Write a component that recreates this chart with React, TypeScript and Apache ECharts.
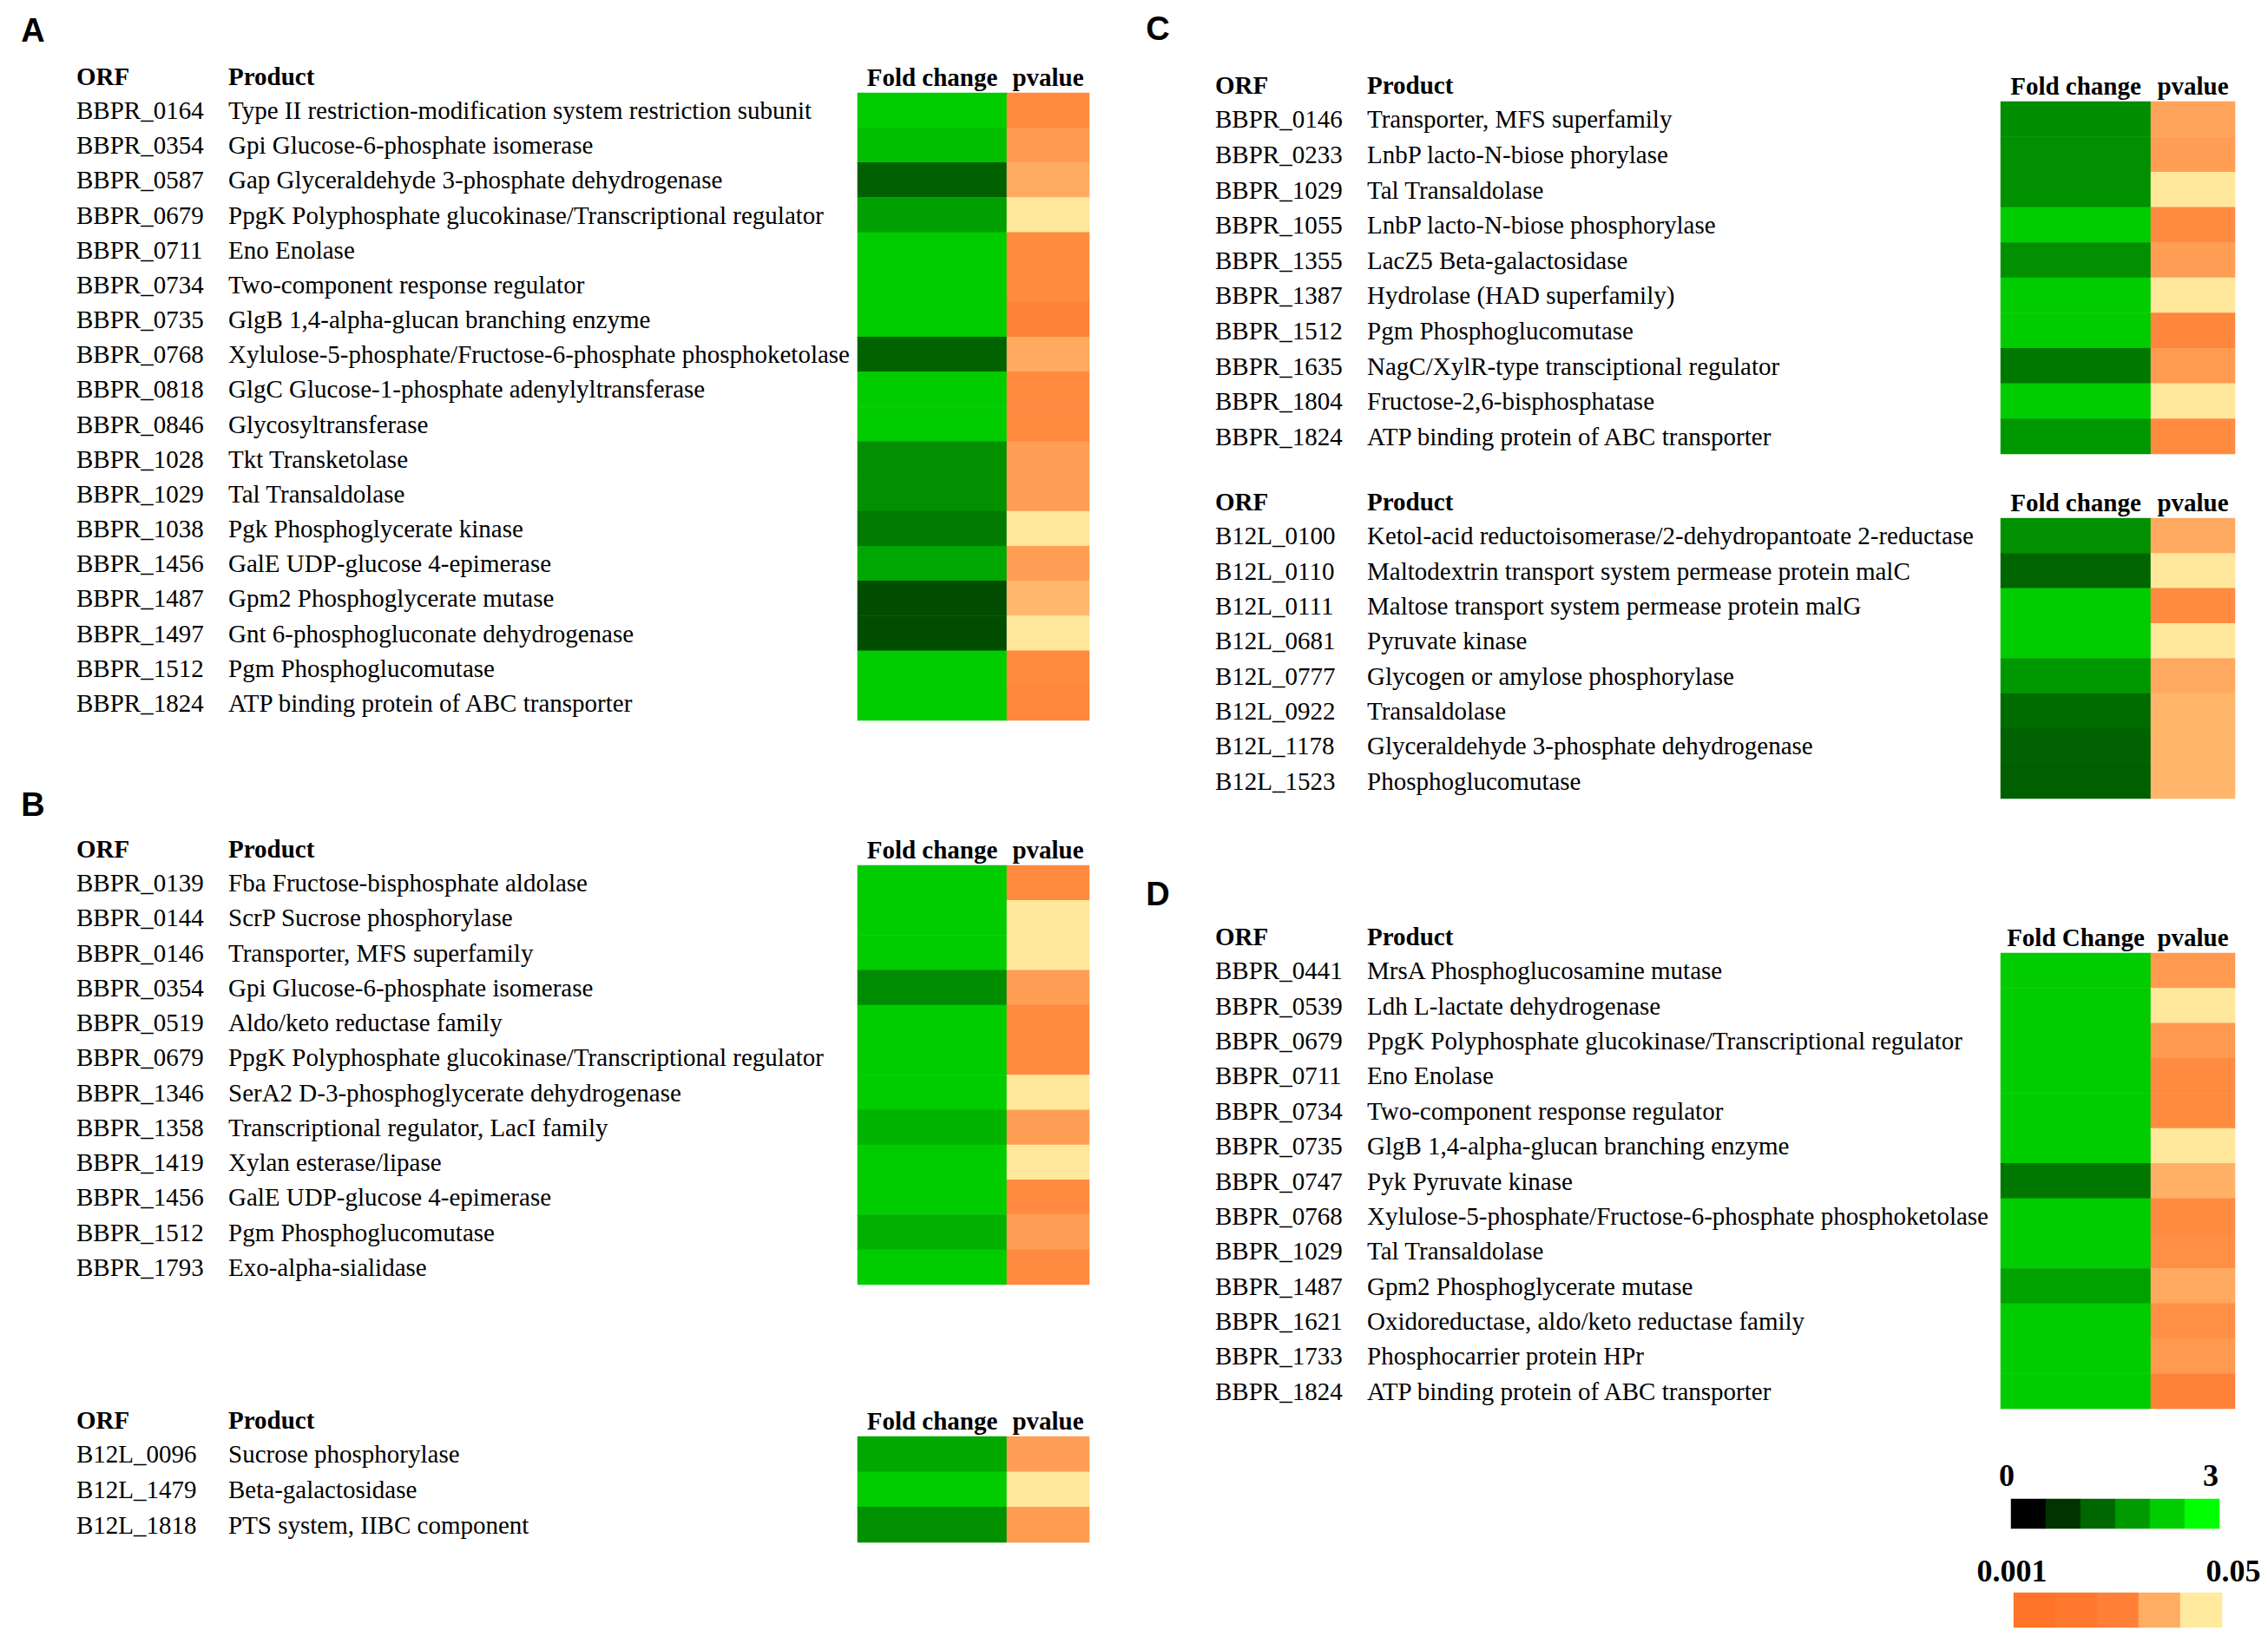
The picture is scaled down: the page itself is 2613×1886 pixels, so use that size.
import React, { useEffect, useRef } from 'react';
import * as echarts from 'echarts';

const SERIF = "'Liberation Serif', 'Times New Roman', serif";
const SANS_N = "'Liberation Sans Narrow', 'Liberation Sans', Arial, sans-serif";

// ---------- Panel A ----------
const aOrf = ['BBPR_0164','BBPR_0354','BBPR_0587','BBPR_0679','BBPR_0711','BBPR_0734','BBPR_0735','BBPR_0768','BBPR_0818','BBPR_0846','BBPR_1028','BBPR_1029','BBPR_1038','BBPR_1456','BBPR_1487','BBPR_1497','BBPR_1512','BBPR_1824'];
const aProduct = ['Type II restriction-modification system restriction subunit','Gpi Glucose-6-phosphate isomerase','Gap Glyceraldehyde 3-phosphate dehydrogenase','PpgK Polyphosphate glucokinase/Transcriptional regulator','Eno Enolase','Two-component response regulator','GlgB 1,4-alpha-glucan branching enzyme','Xylulose-5-phosphate/Fructose-6-phosphate phosphoketolase','GlgC Glucose-1-phosphate adenylyltransferase','Glycosyltransferase','Tkt Transketolase','Tal Transaldolase','Pgk Phosphoglycerate kinase','GalE UDP-glucose 4-epimerase','Gpm2 Phosphoglycerate mutase','Gnt 6-phosphogluconate dehydrogenase','Pgm Phosphoglucomutase','ATP binding protein of ABC transporter'];
const aFold = [2.4, 2.25, 1.13, 1.88, 2.4, 2.4, 2.4, 1.17, 2.4, 2.4, 1.69, 1.69, 1.43, 1.97, 0.9, 0.9, 2.4, 2.4];
const aP = [0.0282, 0.0326, 0.0375, 0.0496, 0.0285, 0.0282, 0.026, 0.0369, 0.0282, 0.0282, 0.0337, 0.0337, 0.0496, 0.0337, 0.04, 0.0496, 0.0282, 0.0278];

// ---------- Panel B (top) ----------
const b1Orf = ['BBPR_0139','BBPR_0144','BBPR_0146','BBPR_0354','BBPR_0519','BBPR_0679','BBPR_1346','BBPR_1358','BBPR_1419','BBPR_1456','BBPR_1512','BBPR_1793'];
const b1Product = ['Fba Fructose-bisphosphate aldolase','ScrP Sucrose phosphorylase','Transporter, MFS superfamily','Gpi Glucose-6-phosphate isomerase','Aldo/keto reductase family','PpgK Polyphosphate glucokinase/Transcriptional regulator','SerA2 D-3-phosphoglycerate dehydrogenase','Transcriptional regulator, LacI family','Xylan esterase/lipase','GalE UDP-glucose 4-epimerase','Pgm Phosphoglucomutase','Exo-alpha-sialidase'];
const b1Fold = [2.4, 2.4, 2.4, 1.65, 2.4, 2.4, 2.4, 2.12, 2.4, 2.4, 2.07, 2.4];
const b1P = [0.0282, 0.0496, 0.0496, 0.0337, 0.0282, 0.0282, 0.0496, 0.0337, 0.0496, 0.0282, 0.0337, 0.0282];

// ---------- Panel B (bottom) ----------
const b2Orf = ['B12L_0096','B12L_1479','B12L_1818'];
const b2Product = ['Sucrose phosphorylase','Beta-galactosidase','PTS system, IIBC component'];
const b2Fold = [1.98, 2.4, 1.69];
const b2P = [0.0337, 0.0496, 0.033];

// ---------- Panel C (top) ----------
const c1Orf = ['BBPR_0146','BBPR_0233','BBPR_1029','BBPR_1055','BBPR_1355','BBPR_1387','BBPR_1512','BBPR_1635','BBPR_1804','BBPR_1824'];
const c1Product = ['Transporter, MFS superfamily','LnbP lacto-N-biose phorylase','Tal Transaldolase','LnbP lacto-N-biose phosphorylase','LacZ5 Beta-galactosidase','Hydrolase (HAD superfamily)','Pgm Phosphoglucomutase','NagC/XylR-type transciptional regulator','Fructose-2,6-bisphosphatase','ATP binding protein of ABC transporter'];
const c1Fold = [1.67, 1.69, 1.69, 2.4, 1.69, 2.4, 2.4, 1.41, 2.4, 1.79];
const c1P = [0.0355, 0.0337, 0.0496, 0.0285, 0.0337, 0.0496, 0.0275, 0.033, 0.0496, 0.0285];

// ---------- Panel C (bottom) ----------
const c2Orf = ['B12L_0100','B12L_0110','B12L_0111','B12L_0681','B12L_0777','B12L_0922','B12L_1178','B12L_1523'];
const c2Product = ['Ketol-acid reductoisomerase/2-dehydropantoate 2-reductase','Maltodextrin transport system permease protein malC','Maltose transport system permease protein malG','Pyruvate kinase','Glycogen or amylose phosphorylase','Transaldolase','Glyceraldehyde 3-phosphate dehydrogenase','Phosphoglucomutase'];
const c2Fold = [1.69, 1.18, 2.4, 2.4, 1.79, 1.27, 1.15, 1.13];
const c2P = [0.0369, 0.0496, 0.0282, 0.0496, 0.0369, 0.0395, 0.0395, 0.0395];

// ---------- Panel D ----------
const dOrf = ['BBPR_0441','BBPR_0539','BBPR_0679','BBPR_0711','BBPR_0734','BBPR_0735','BBPR_0747','BBPR_0768','BBPR_1029','BBPR_1487','BBPR_1621','BBPR_1733','BBPR_1824'];
const dProduct = ['MrsA Phosphoglucosamine mutase','Ldh L-lactate dehydrogenase','PpgK Polyphosphate glucokinase/Transcriptional regulator','Eno Enolase','Two-component response regulator','GlgB 1,4-alpha-glucan branching enzyme','Pyk Pyruvate kinase','Xylulose-5-phosphate/Fructose-6-phosphate phosphoketolase','Tal Transaldolase','Gpm2 Phosphoglycerate mutase','Oxidoreductase, aldo/keto reductase family','Phosphocarrier protein HPr','ATP binding protein of ABC transporter'];
const dFold = [2.4, 2.4, 2.4, 2.4, 2.4, 2.4, 1.41, 2.4, 2.4, 1.9, 2.4, 2.4, 2.4];
const dP = [0.0326, 0.0496, 0.0326, 0.0285, 0.0285, 0.0496, 0.0387, 0.0285, 0.0296, 0.0369, 0.0296, 0.0326, 0.026];

// ---------- Color scales ----------
const foldLegendValues = [0, 0.6, 1.2, 1.8, 2.4, 3];
const foldLegendLabels = ['0', '3'];
const pLegendValues = [0.001, 0.01325, 0.0255, 0.03775, 0.05];
const pLegendLabels = ['0.001', '0.05'];
const foldColors = ['#000000', '#00ff00'];
const pColors = ['#ff7428', '#ff7a2e', '#ff8036', '#ffad63', '#ffea9d'];

const tables = [
  { orf: aOrf, product: aProduct, fold: aFold, p: aP, header: 'Fold change' },
  { orf: b1Orf, product: b1Product, fold: b1Fold, p: b1P, header: 'Fold change' },
  { orf: b2Orf, product: b2Product, fold: b2Fold, p: b2P, header: 'Fold change' },
  { orf: c1Orf, product: c1Product, fold: c1Fold, p: c1P, header: 'Fold change' },
  { orf: c2Orf, product: c2Product, fold: c2Fold, p: c2P, header: 'Fold change' },
  { orf: dOrf, product: dProduct, fold: dFold, p: dP, header: 'Fold Change' },
];

// layout (pixels)
const layouts = [
  { left: 988, fcW: 172, pW: 95, top: 107, height: 723, labelX: 88 },
  { left: 988, fcW: 172, pW: 95, top: 997, height: 483, labelX: 88 },
  { left: 988, fcW: 172, pW: 95, top: 1655, height: 122, labelX: 88 },
  { left: 2305, fcW: 173, pW: 97, top: 117, height: 406, labelX: 1400 },
  { left: 2305, fcW: 173, pW: 97, top: 597, height: 323, labelX: 1400 },
  { left: 2305, fcW: 173, pW: 97, top: 1098, height: 525, labelX: 1400 },
];
const panelLetters = [
  { t: 'A', x: 38, y: 35 },
  { t: 'B', x: 38, y: 927 },
  { t: 'C', x: 1334, y: 33 },
  { t: 'D', x: 1334, y: 1030 },
];

const FS = 29;

function buildOption() {
  const grid: any[] = [];
  const xAxis: any[] = [];
  const yAxis: any[] = [];
  const series: any[] = [];
  const graphic: any[] = [];
  const fcSeries: number[] = [];
  const pSeries: number[] = [];

  tables.forEach((t, k) => {
    const L = layouts[k];
    // fold change column
    const gi = grid.length;
    grid.push({ left: L.left, top: L.top, width: L.fcW, height: L.height, containLabel: false });
    grid.push({ left: L.left + L.fcW, top: L.top, width: L.pW, height: L.height, containLabel: false });
    const xHeader = (name: string, gIdx: number) => ({
      gridIndex: gIdx,
      type: 'category',
      data: [name],
      position: 'top',
      axisLine: { show: false },
      axisTick: { show: false },
      splitLine: { show: false },
      axisLabel: { interval: 0, fontFamily: SERIF, fontWeight: 'bold', fontSize: FS, color: '#000', margin: 4 },
    });
    xAxis.push(xHeader(t.header, gi));
    xAxis.push(xHeader('pvalue', gi + 1));
    yAxis.push({
      gridIndex: gi,
      type: 'category',
      data: t.orf,
      inverse: true,
      axisLine: { show: false },
      axisTick: { show: false },
      splitLine: { show: false },
      axisLabel: {
        interval: 0,
        align: 'left',
        margin: L.left - L.labelX,
        formatter: (v: string, i: number) => `{o|${v}}{p|${t.product[i]}}`,
        rich: {
          o: { width: 175, fontSize: FS, fontFamily: SERIF, color: '#000' },
          p: { fontSize: FS, fontFamily: SERIF, color: '#000' },
        },
      },
    });
    yAxis.push({
      gridIndex: gi + 1,
      type: 'category',
      data: t.orf,
      inverse: true,
      axisLine: { show: false },
      axisTick: { show: false },
      splitLine: { show: false },
      axisLabel: { show: false },
    });
    fcSeries.push(series.length);
    series.push({
      type: 'heatmap',
      xAxisIndex: gi,
      yAxisIndex: gi,
      data: t.fold.map((v, i) => [0, i, v]),
      emphasis: { disabled: true },
    });
    pSeries.push(series.length);
    series.push({
      type: 'heatmap',
      xAxisIndex: gi + 1,
      yAxisIndex: gi + 1,
      data: t.p.map((v, i) => [0, i, v]),
      emphasis: { disabled: true },
    });
    graphic.push({
      type: 'text', x: L.labelX, y: L.top - 19,
      style: { text: 'ORF', font: `bold ${FS}px ${SERIF}`, fill: '#000', verticalAlign: 'middle', align: 'left' },
    });
    graphic.push({
      type: 'text', x: L.labelX + 175, y: L.top - 19,
      style: { text: 'Product', font: `bold ${FS}px ${SERIF}`, fill: '#000', verticalAlign: 'middle', align: 'left' },
    });
  });

  // legend grids
  const addLegend = (vals: number[], left: number, top: number, width: number, height: number, target: number[]) => {
    const gi = grid.length;
    grid.push({ left, top, width, height });
    xAxis.push({ gridIndex: gi, type: 'category', data: vals.map(String), axisLine: { show: false }, axisTick: { show: false }, axisLabel: { show: false }, splitLine: { show: false } });
    yAxis.push({ gridIndex: gi, type: 'category', data: ['scale'], axisLine: { show: false }, axisTick: { show: false }, axisLabel: { show: false }, splitLine: { show: false } });
    target.push(series.length);
    series.push({ type: 'heatmap', xAxisIndex: gi, yAxisIndex: gi, data: vals.map((v, i) => [i, 0, v]), emphasis: { disabled: true } });
  };
  addLegend(foldLegendValues, 2317, 1727, 240, 34, fcSeries);
  addLegend(pLegendValues, 2320, 1835, 240, 40, pSeries);

  const legText = (text: string, x: number, y: number) => ({
    type: 'text', x, y,
    style: { text, font: `bold 36px ${SERIF}`, fill: '#000', align: 'center', verticalAlign: 'middle' },
  });
  graphic.push(legText(foldLegendLabels[0], 2312, 1700));
  graphic.push(legText(foldLegendLabels[1], 2547, 1700));
  graphic.push(legText(pLegendLabels[0], 2318, 1810));
  graphic.push(legText(pLegendLabels[1], 2573, 1810));

  panelLetters.forEach((p) => {
    graphic.push({
      type: 'text', x: p.x, y: p.y,
      style: { text: p.t, font: `bold 38px ${SANS_N}`, fill: '#000', align: 'center', verticalAlign: 'middle' },
    });
  });

  return {
    animation: false,
    backgroundColor: '#ffffff',
    grid,
    xAxis,
    yAxis,
    series,
    graphic,
    visualMap: [
      { type: 'continuous', show: false, dimension: 2, seriesIndex: fcSeries, min: 0, max: 3, inRange: { color: foldColors } },
      { type: 'continuous', show: false, dimension: 2, seriesIndex: pSeries, min: 0.001, max: 0.05, inRange: { color: pColors } },
    ],
  };
}

export default function App() {
  const ref = useRef<HTMLDivElement>(null);
  useEffect(() => {
    if (!ref.current) return;
    const chart = echarts.init(ref.current, null, { renderer: 'svg' });
    chart.setOption(buildOption() as any);
    return () => chart.dispose();
  }, []);
  return (
    <div
      ref={ref}
      style={{ position: 'fixed', left: 0, top: 0, width: 2613, height: 1886, background: '#fff' }}
    />
  );
}
